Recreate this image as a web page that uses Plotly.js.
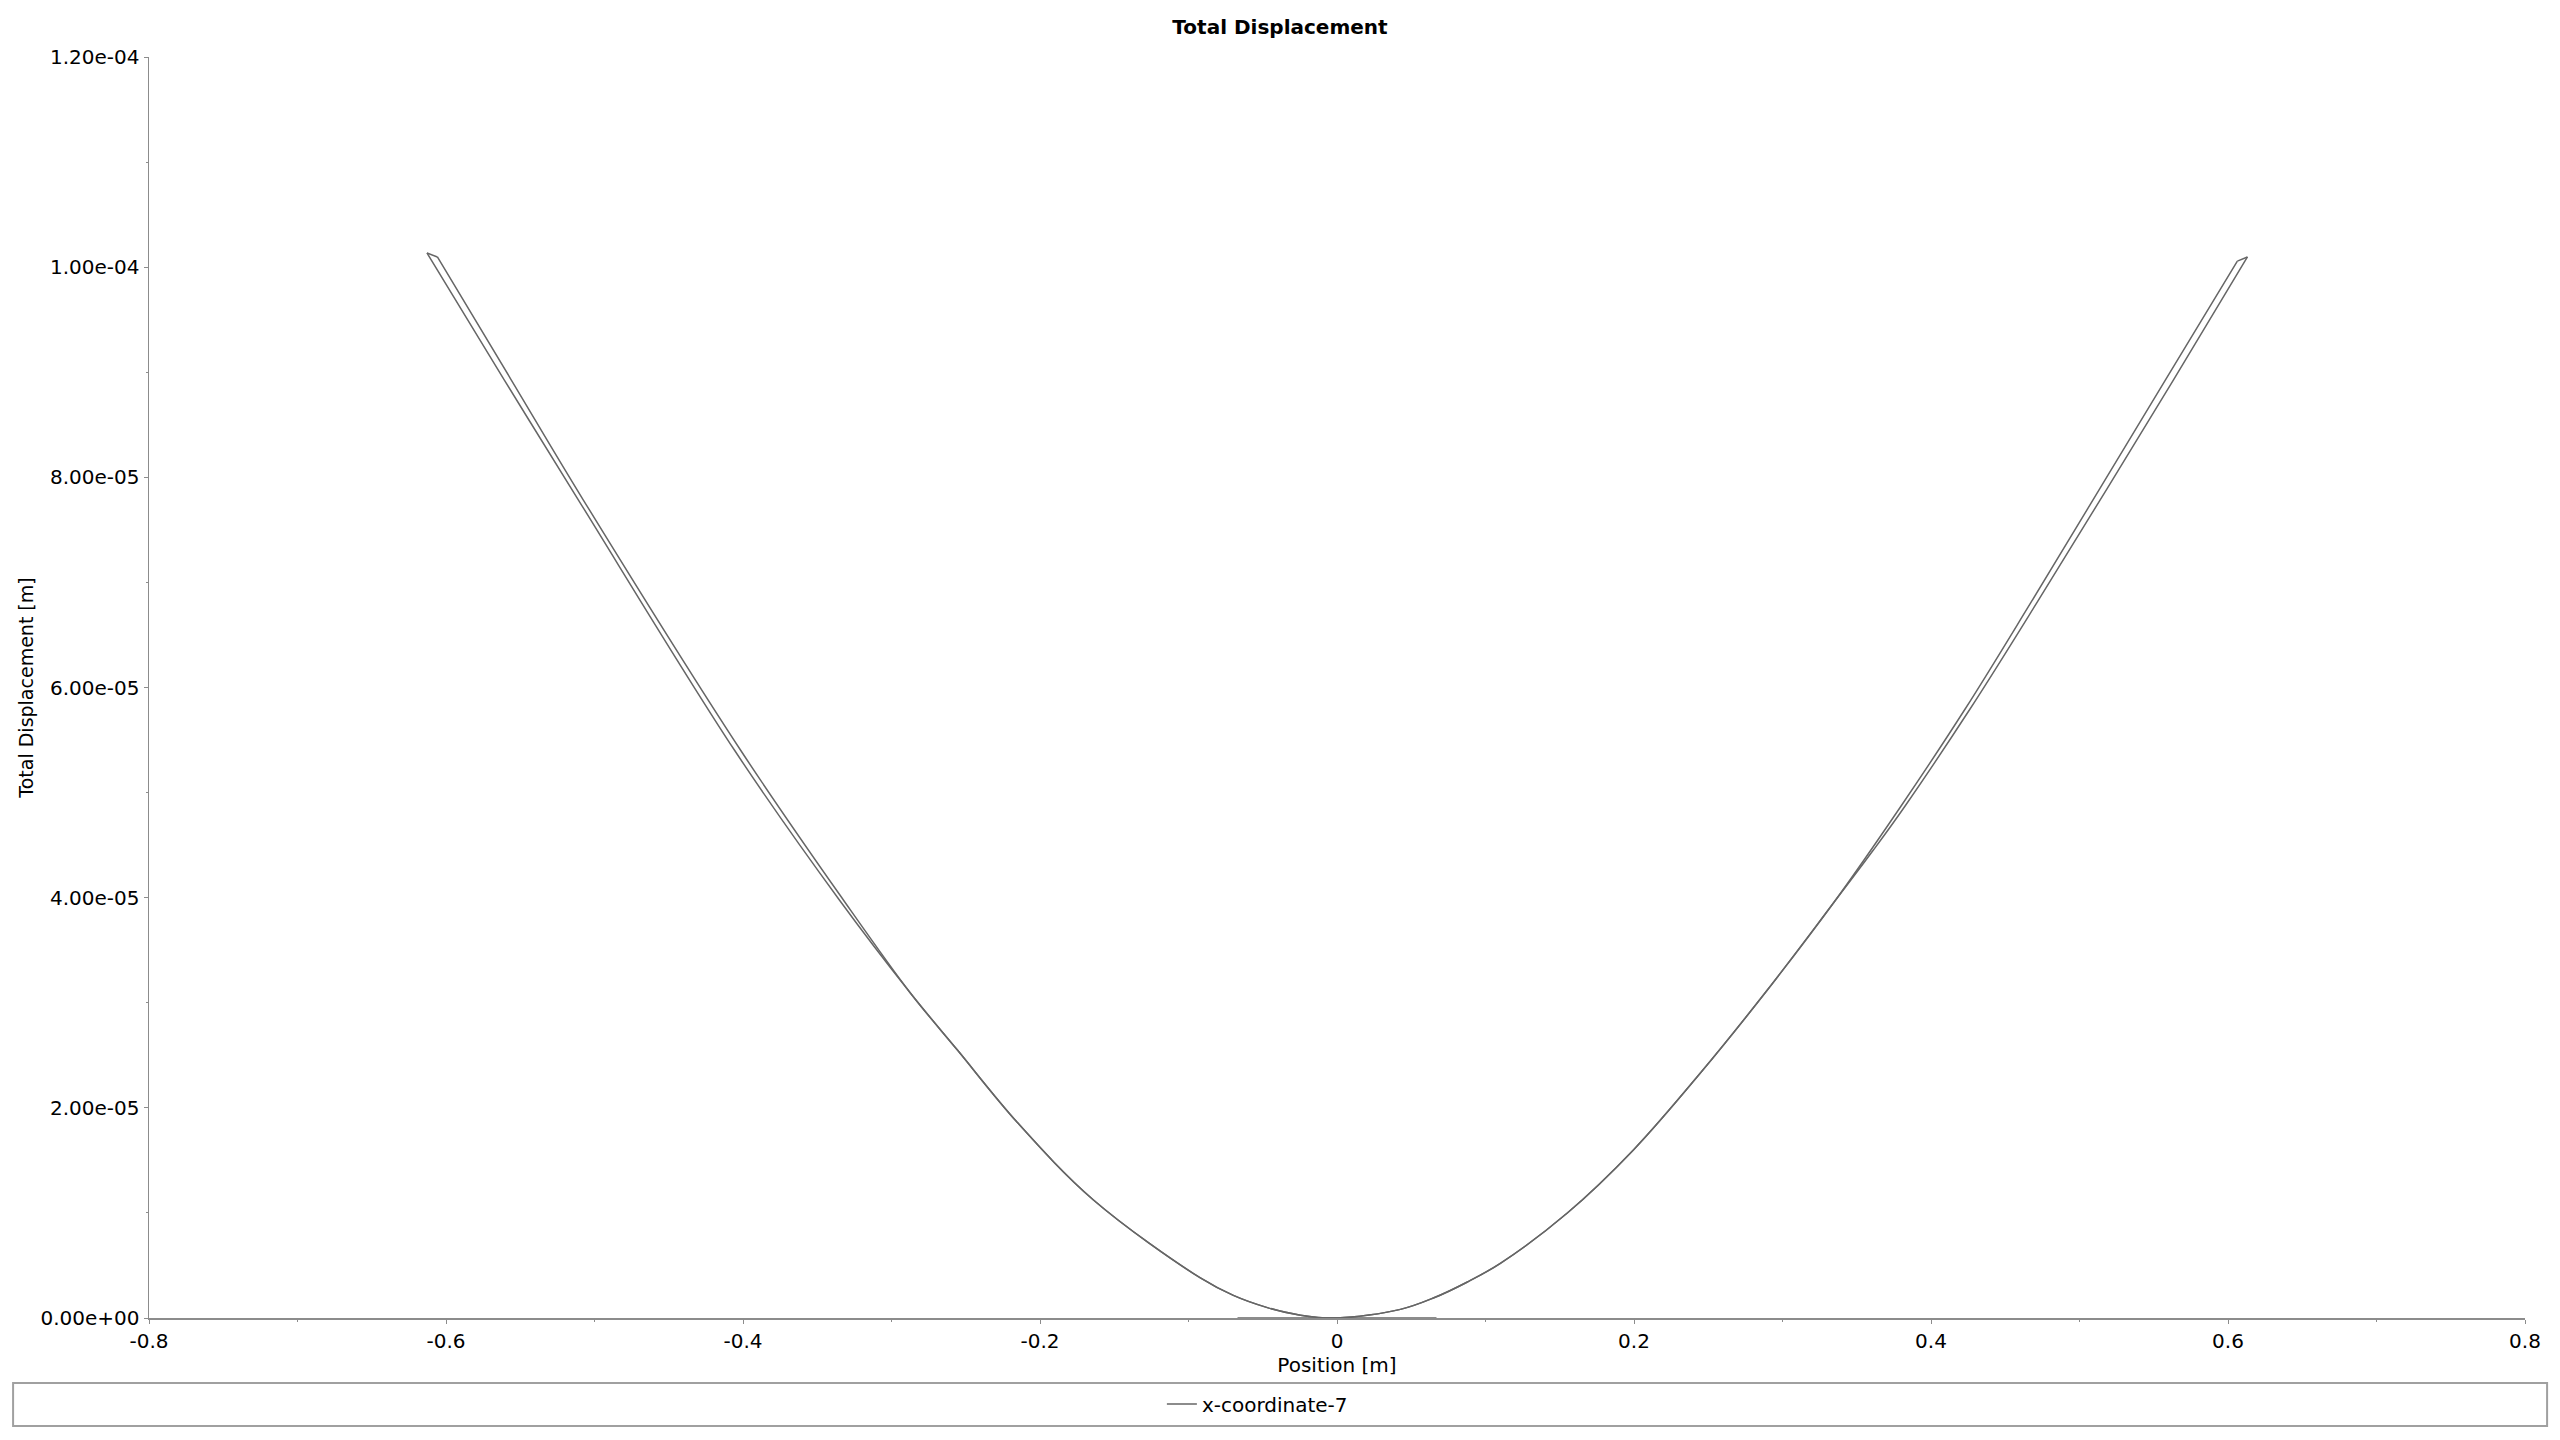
<!DOCTYPE html>
<html>
<head>
<meta charset="utf-8">
<script src="https://cdn.plot.ly/plotly-3.0.1.min.js"></script>
<style>
  html, body { margin: 0; padding: 0; background: #fff; }
  #plot { width: 2560px; height: 1440px; }
</style>
</head>
<body>
<div id="plot"></div>
<script>
// outer edge: left tip -> bottom -> right tip
var outerX = [-0.6128, -0.5607, -0.5108, -0.4058, -0.3351, -0.2873, -0.2556, -0.2152, -0.1640, -0.0920, -0.0698, -0.0469, -0.0246, 0.0000,
              0.0427, 0.0649, 0.0878, 0.1100, 0.1551, 0.1996, 0.2447, 0.2898, 0.3343, 0.3612, 0.3821, 0.4265, 0.4710, 0.5632, 0.6131];
var outerY = [1.0135e-4, 8.926e-5, 7.784e-5, 5.405e-5, 3.978e-5, 3.093e-5, 2.550e-5, 1.860e-5, 1.123e-5, 3.81e-6, 2.15e-6, 9.9e-7, 2.7e-7, 0,
              8.2e-7, 1.90e-6, 3.43e-6, 5.20e-6, 9.99e-6, 1.599e-5, 2.331e-5, 3.121e-5, 3.949e-5, 4.453e-5, 4.863e-5, 5.800e-5, 6.800e-5, 8.926e-5, 1.0097e-4];

// inner edge: right corner -> bottom -> left corner (same points as outer where both edges meet)
var innerX = [0.6063, 0.5578, 0.4669, 0.4232, 0.3794, 0.3343, 0.2898, 0.2447, 0.1996, 0.1551, 0.1100, 0.0878, 0.0649, 0.0427, 0.0000,
              -0.0246, -0.0469, -0.0698, -0.0920, -0.1640, -0.2152, -0.2556, -0.2873, -0.3324, -0.4017, -0.5075, -0.5560, -0.6058];
var innerY = [1.0058e-4, 8.926e-5, 6.800e-5, 5.800e-5, 4.863e-5, 3.949e-5, 3.121e-5, 2.331e-5, 1.599e-5, 9.99e-6, 5.20e-6, 3.43e-6, 1.90e-6, 8.2e-7, 0,
              2.7e-7, 9.9e-7, 2.15e-6, 3.81e-6, 1.123e-5, 1.860e-5, 2.550e-5, 3.093e-5, 3.978e-5, 5.405e-5, 7.784e-5, 8.926e-5, 1.0097e-4];

// flat part lying on zero
var baseX = [-0.067, 0.067];
var baseY = [0, 0];

var xTickVals = [-0.8, -0.6, -0.4, -0.2, 0, 0.2, 0.4, 0.6, 0.8];
var xTickText = ['-0.8', '-0.6', '-0.4', '-0.2', '0', '0.2', '0.4', '0.6', '0.8'];
var yTickVals = [0, 2e-5, 4e-5, 6e-5, 8e-5, 1e-4, 1.2e-4];
var yTickText = ['0.00e+00', '2.00e-05', '4.00e-05', '6.00e-05', '8.00e-05', '1.00e-04', '1.20e-04'];

var font = 'DejaVu Sans, sans-serif';
var lineGray = '#666666';
var axisGray = '#8c8c8c';

var nO = outerX.length, nI = innerX.length;
// the two short end caps plus the flat piece, straight segments
var capX = [outerX[0], innerX[nI - 1], null, outerX[nO - 1], innerX[0], null].concat(baseX);
var capY = [outerY[0], innerY[nI - 1], null, outerY[nO - 1], innerY[0], null].concat(baseY);

var lineStyle = {color: lineGray, width: 1.5};

var data = [{
    x: outerX, y: outerY,
    type: 'scatter', mode: 'lines',
    name: 'x-coordinate-7', legendgroup: 'xc7',
    line: Object.assign({shape: 'spline', smoothing: 1}, lineStyle),
    hoverinfo: 'skip'
}, {
    x: innerX, y: innerY,
    type: 'scatter', mode: 'lines',
    name: 'x-coordinate-7', legendgroup: 'xc7', showlegend: false,
    line: Object.assign({shape: 'spline', smoothing: 1}, lineStyle),
    hoverinfo: 'skip'
}, {
    x: capX, y: capY,
    type: 'scatter', mode: 'lines',
    name: 'x-coordinate-7', legendgroup: 'xc7', showlegend: false,
    connectgaps: false,
    line: lineStyle,
    hoverinfo: 'skip'
}];

var layout = {
    width: 2560,
    height: 1440,
    paper_bgcolor: '#ffffff',
    plot_bgcolor: '#ffffff',
    margin: {l: 149, r: 35, t: 57, b: 122, pad: 0},
    font: {family: font, size: 20, color: '#000000'},
    title: {
        text: '<b>Total Displacement</b>',
        font: {family: font, size: 20, color: '#000000'},
        xref: 'container', x: 0.5, xanchor: 'center',
        yref: 'container', y: 1 - 27 / 1440, yanchor: 'middle'
    },
    xaxis: {
        range: [-0.8, 0.8],
        tickmode: 'array',
        tickvals: xTickVals,
        ticktext: xTickText,
        ticks: 'outside',
        ticklen: 4,
        tickcolor: axisGray,
        showline: true,
        linecolor: axisGray,
        linewidth: 1.5,
        showgrid: false,
        zeroline: false,
        minor: {dtick: 0.1, tick0: -0.8, ticks: 'outside', ticklen: 2, tickcolor: axisGray, showgrid: false},
        tickfont: {family: font, size: 20, color: '#000000'},
        title: {text: 'Position [m]', font: {family: font, size: 20, color: '#000000'}, standoff: 4},
        fixedrange: true
    },
    yaxis: {
        range: [0, 1.2e-4],
        tickmode: 'array',
        tickvals: yTickVals,
        ticktext: yTickText,
        ticks: 'outside',
        ticklen: 4,
        tickcolor: axisGray,
        showline: true,
        linecolor: axisGray,
        linewidth: 1.5,
        showgrid: false,
        zeroline: false,
        minor: {dtick: 1e-5, tick0: 0, ticks: 'outside', ticklen: 2, tickcolor: axisGray, showgrid: false},
        tickfont: {family: font, size: 20, color: '#000000'},
        title: {text: 'Total Displacement [m]', font: {family: font, size: 19, color: '#000000'}, standoff: 2},
        fixedrange: true
    },
    showlegend: true,
    legend: {
        orientation: 'h',
        x: 0.4263, xanchor: 'left',
        y: -0.0682, yanchor: 'middle',
        bgcolor: 'rgba(0,0,0,0)',
        borderwidth: 0,
        font: {family: font, size: 20, color: '#000000'}
    },
    shapes: [{
        type: 'rect',
        xref: 'paper', yref: 'paper',
        x0: -0.0572, x1: 1.0093,
        y0: -0.0515, y1: -0.0856,
        line: {color: '#a0a0a0', width: 2},
        fillcolor: 'rgba(0,0,0,0)'
    }]
};

Plotly.newPlot('plot', data, layout, {displayModeBar: false, staticPlot: true});
</script>
</body>
</html>
